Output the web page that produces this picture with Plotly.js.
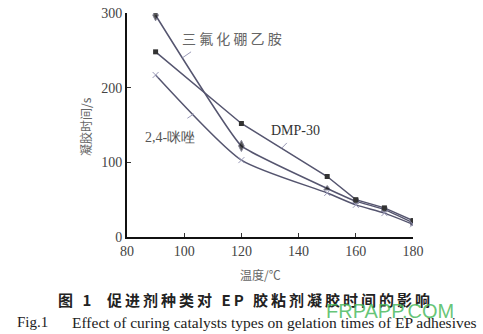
<!DOCTYPE html>
<html><head><meta charset="utf-8">
<script src="https://cdn.plot.ly/plotly-3.0.1.min.js"></script>
<style>body{margin:0;background:#fff}#c{width:483px;height:334px}</style>
</head><body><div id="c"></div>
<script>
var temps = [90, 120, 150, 160, 170, 180];
var bf3 = [297, 122, 65, 48, 37, 19];
var dmp30 = [248, 152, 81, 50, 39, 22];
var imid = [217, 103, 59, 43, 32, 17];
var xTicks = [80, 100, 120, 140, 160, 180];
var yTicks = [0, 100, 200, 300];

var lineColor = '#55556f';
var serif = 'Liberation Serif, DejaVu Serif, serif';
var cjk = 'Noto Sans CJK SC, Noto Sans, sans-serif';

// pixel -> paper helpers (plot area 127..413 x, 13..237 y)
function px(p) { return (p - 127) / 286; }
function py(p) { return (237 - p) / 224; }

var traces = [
  {x: temps, y: bf3, mode: 'lines+markers', line: {color: lineColor, width: 1.5, shape: 'spline', smoothing: 0.3},
   marker: {color: '#111', size: [8, 8, 6, 5, 5, 5], symbol: ['diamond-tall', 'diamond-tall', 'triangle-up', 'square', 'square', 'square']}},
  {x: temps, y: dmp30, mode: 'lines+markers', line: {color: lineColor, width: 1.5},
   marker: {color: '#333', size: 5, symbol: 'square'}},
  {x: temps, y: imid, mode: 'lines+markers', line: {color: lineColor, width: 1.5, shape: 'spline', smoothing: 0.6},
   marker: {color: '#9a9ab8', size: 6, symbol: 'x-thin-open', line: {color: '#9a9ab8', width: 1}}}
];

function ann(text, x, y, font, extra) {
  var a = {text: text, x: x, y: y, xref: 'paper', yref: 'paper', showarrow: false,
    xanchor: 'center', yanchor: 'middle', font: font};
  for (var k in (extra || {})) a[k] = extra[k];
  return a;
}

var capCn = '图 1  促进剂种类对 EP 胶粘剂凝胶时间的影响'.split('').join('\u2009');

var layout = {
  width: 483, height: 334,
  margin: {l: 127, r: 70, t: 13, b: 97},
  paper_bgcolor: '#fff', plot_bgcolor: '#fff',
  showlegend: false,
  xaxis: {range: [80, 180], tickvals: xTicks, ticktext: xTicks.map(String), ticks: 'inside', ticklen: 4, tickcolor: '#333',
    showline: true, linecolor: '#111', linewidth: 2, showgrid: false, zeroline: false,
    tickfont: {family: serif, size: 14, color: '#444'}},
  yaxis: {range: [0, 300], tickvals: yTicks, ticktext: yTicks.map(String), ticks: 'inside', ticklen: 4, tickcolor: '#333',
    showline: true, linecolor: '#111', linewidth: 2, showgrid: false, zeroline: false,
    tickfont: {family: serif, size: 14, color: '#444'}},
  shapes: [
    {type: 'line', x0: 102.4, y0: 248, x1: 99.4, y1: 240, line: {color: '#9a9ab8', width: 1}},
    {type: 'line', x0: 101.1, y0: 159, x1: 103.4, y1: 165, line: {color: '#9a9ab8', width: 1}},
    {type: 'line', x0: 135.9, y0: 126, x1: 134.1, y1: 119, line: {color: '#9a9ab8', width: 1}}
  ],
  annotations: [
    ann('三 氟 化 硼 乙 胺', px(232), py(38), {family: cjk, size: 14, color: '#666'}),
    ann('DMP-30', px(295), py(130), {family: serif, size: 14, color: '#333'}),
    ann('2,4-咪唑', px(170), py(137), {family: serif, size: 14, color: '#555'}),
    ann('凝胶时间/s', px(85), py(127), {family: cjk, size: 12, color: '#666'}, {textangle: -90}),
    ann('温度/℃', px(260), py(274), {family: cjk, size: 12, color: '#666'}),
    ann('<b>' + capCn + '</b>', px(244), py(299), {family: cjk, size: 15, color: '#222'}),
    ann('Fig.1', px(15), py(322), {family: serif, size: 15, color: '#222'}, {xanchor: 'left'}),
    ann('Effect of curing catalysts types on gelation times of EP adhesives', px(70), py(322), {family: serif, size: 15.5, color: '#222'}, {xanchor: 'left'}),
    ann('FRPAPP.COM', px(390), py(311), {family: 'Liberation Sans, Arial, sans-serif', size: 20, color: 'rgba(76,187,96,0.85)'})
  ]
};

Plotly.newPlot('c', traces, layout, {displayModeBar: false, staticPlot: true});
</script></body></html>
